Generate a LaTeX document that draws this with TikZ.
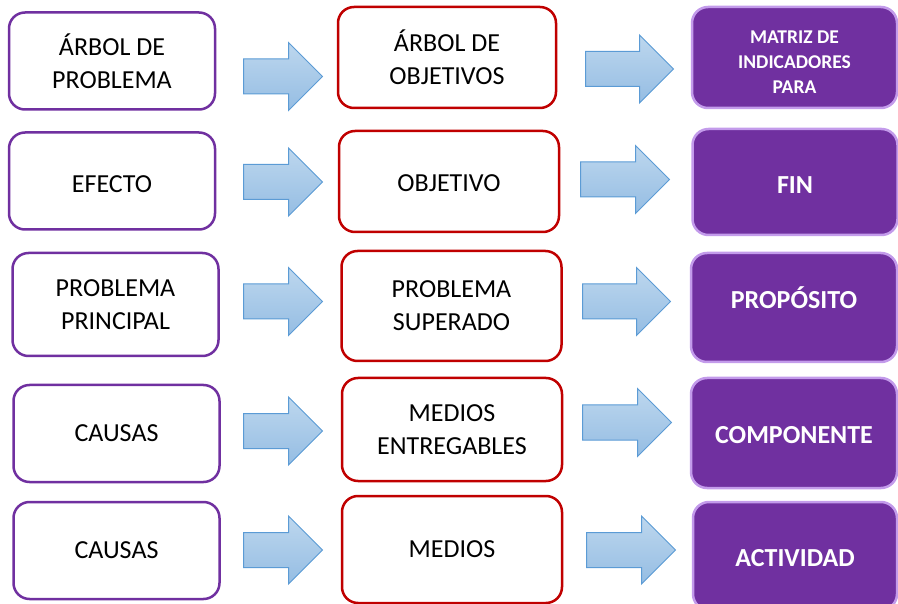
\documentclass[tikz,border=0pt]{standalone}
\usepackage{fontspec}
\setmainfont{Carlito}
\usepackage{tikz}
\usetikzlibrary{shapes.arrows,positioning}
\definecolor{morado}{HTML}{7030A0}
\definecolor{rojo}{HTML}{C00000}
\definecolor{lila}{HTML}{C39BEB}
\definecolor{azulborde}{HTML}{5B9BD5}
\definecolor{azularriba}{HTML}{BDD7EE}
\definecolor{azulabajo}{HTML}{95BDE3}
\newcommand{\mover}[2]{\raisebox{#1}[\height][\depth]{#2}}

\begin{document}
\begin{tikzpicture}[x=1pt,y=-1pt,line width=2.5pt,
    caja/.style={rounded corners=16pt,align=center,inner sep=0pt,
        font=\fontsize{26}{33}\selectfont},
    problema/.style={caja,draw=morado,fill=white,minimum width=206pt,minimum height=97pt},
    objetivo/.style={caja,draw=rojo,fill=white,minimum width=220pt,minimum height=103pt},
    matriz/.style={caja,draw=lila,fill=morado,text=white,minimum width=205pt,minimum height=107pt,
        font=\bfseries\fontsize{26}{33}\selectfont},
    flecha/.style={single arrow,draw=azulborde,line width=1pt,top color=azularriba,
        bottom color=azulabajo,inner xsep=0pt,inner ysep=17pt,
        single arrow head extend=16.5pt,anchor=tail}]
    \useasboundingbox (0,0) rectangle (898,604);

    % columna izquierda
    \node[problema] (arbolP) at (112,61) {ÁRBOL DE\\PROBLEMA};
    \node[problema] (efecto) at (112,181) {\mover{-3pt}{EFECTO}};
    \node[problema,minimum height=103pt] (principal) at (115.5,304.5) {PROBLEMA\\PRINCIPAL};
    \node[problema] (causasA) at (116.5,433.5) {CAUSAS};
    \node[problema] (causasB) at (116.5,550.5) {CAUSAS};

    % columna central
    \node[objetivo,minimum width=218pt,minimum height=101pt] (arbolO) at (447,57.5) {ÁRBOL DE\\OBJETIVOS};
    \node[objetivo,minimum height=101pt] (objetivo) at (449,181.5) {\mover{-2pt}{OBJETIVO}};
    \node[objetivo,minimum height=110pt] (superado) at (451.5,306) {PROBLEMA\\SUPERADO};
    \node[objetivo] (entregables) at (452,429.5) {MEDIOS\\ENTREGABLES};
    \node[objetivo,minimum height=107pt] (medios) at (452,549.5) {MEDIOS};

    % columna derecha
    \node[matriz,minimum height=101pt,font=\bfseries\fontsize{19.5}{25}\selectfont]
        (mir) at (794.5,57.5) {\mover{-5pt}{\parbox{180pt}{\centering MATRIZ DE\\INDICADORES\\PARA}}};
    \node[matriz,minimum height=106pt] (fin) at (795,182) {\mover{-3pt}{FIN}};
    \node[matriz,minimum width=206pt,minimum height=109pt] (proposito) at (794,307.5) {\mover{10pt}{PROPÓSITO}};
    \node[matriz,minimum width=206pt,minimum height=110pt] (componente) at (794,433) {\mover{-2pt}{COMPONENTE}};
    \node[matriz,minimum width=204pt,minimum height=108pt] (actividad) at (795,556) {\mover{-2pt}{ACTIVIDAD}};

    % flechas
    \node[flecha,minimum height=79pt] (f1a) at (243,76.5) {};
    \node[flecha,minimum height=79pt] (f2a) at (243,182) {};
    \node[flecha,minimum height=79pt] (f3a) at (243,301.5) {};
    \node[flecha,minimum height=79pt] (f4a) at (243,431) {};
    \node[flecha,minimum height=79pt] (f5a) at (243,550) {};
    \node[flecha,minimum height=88pt] (f1b) at (585,69) {};
    \node[flecha,minimum height=89pt] (f2b) at (580,179.5) {};
    \node[flecha,minimum height=88pt] (f3b) at (582,301.5) {};
    \node[flecha,minimum height=89pt] (f4b) at (582,422.5) {};
    \node[flecha,minimum height=89pt] (f5b) at (586,550) {};
\end{tikzpicture}
\end{document}
